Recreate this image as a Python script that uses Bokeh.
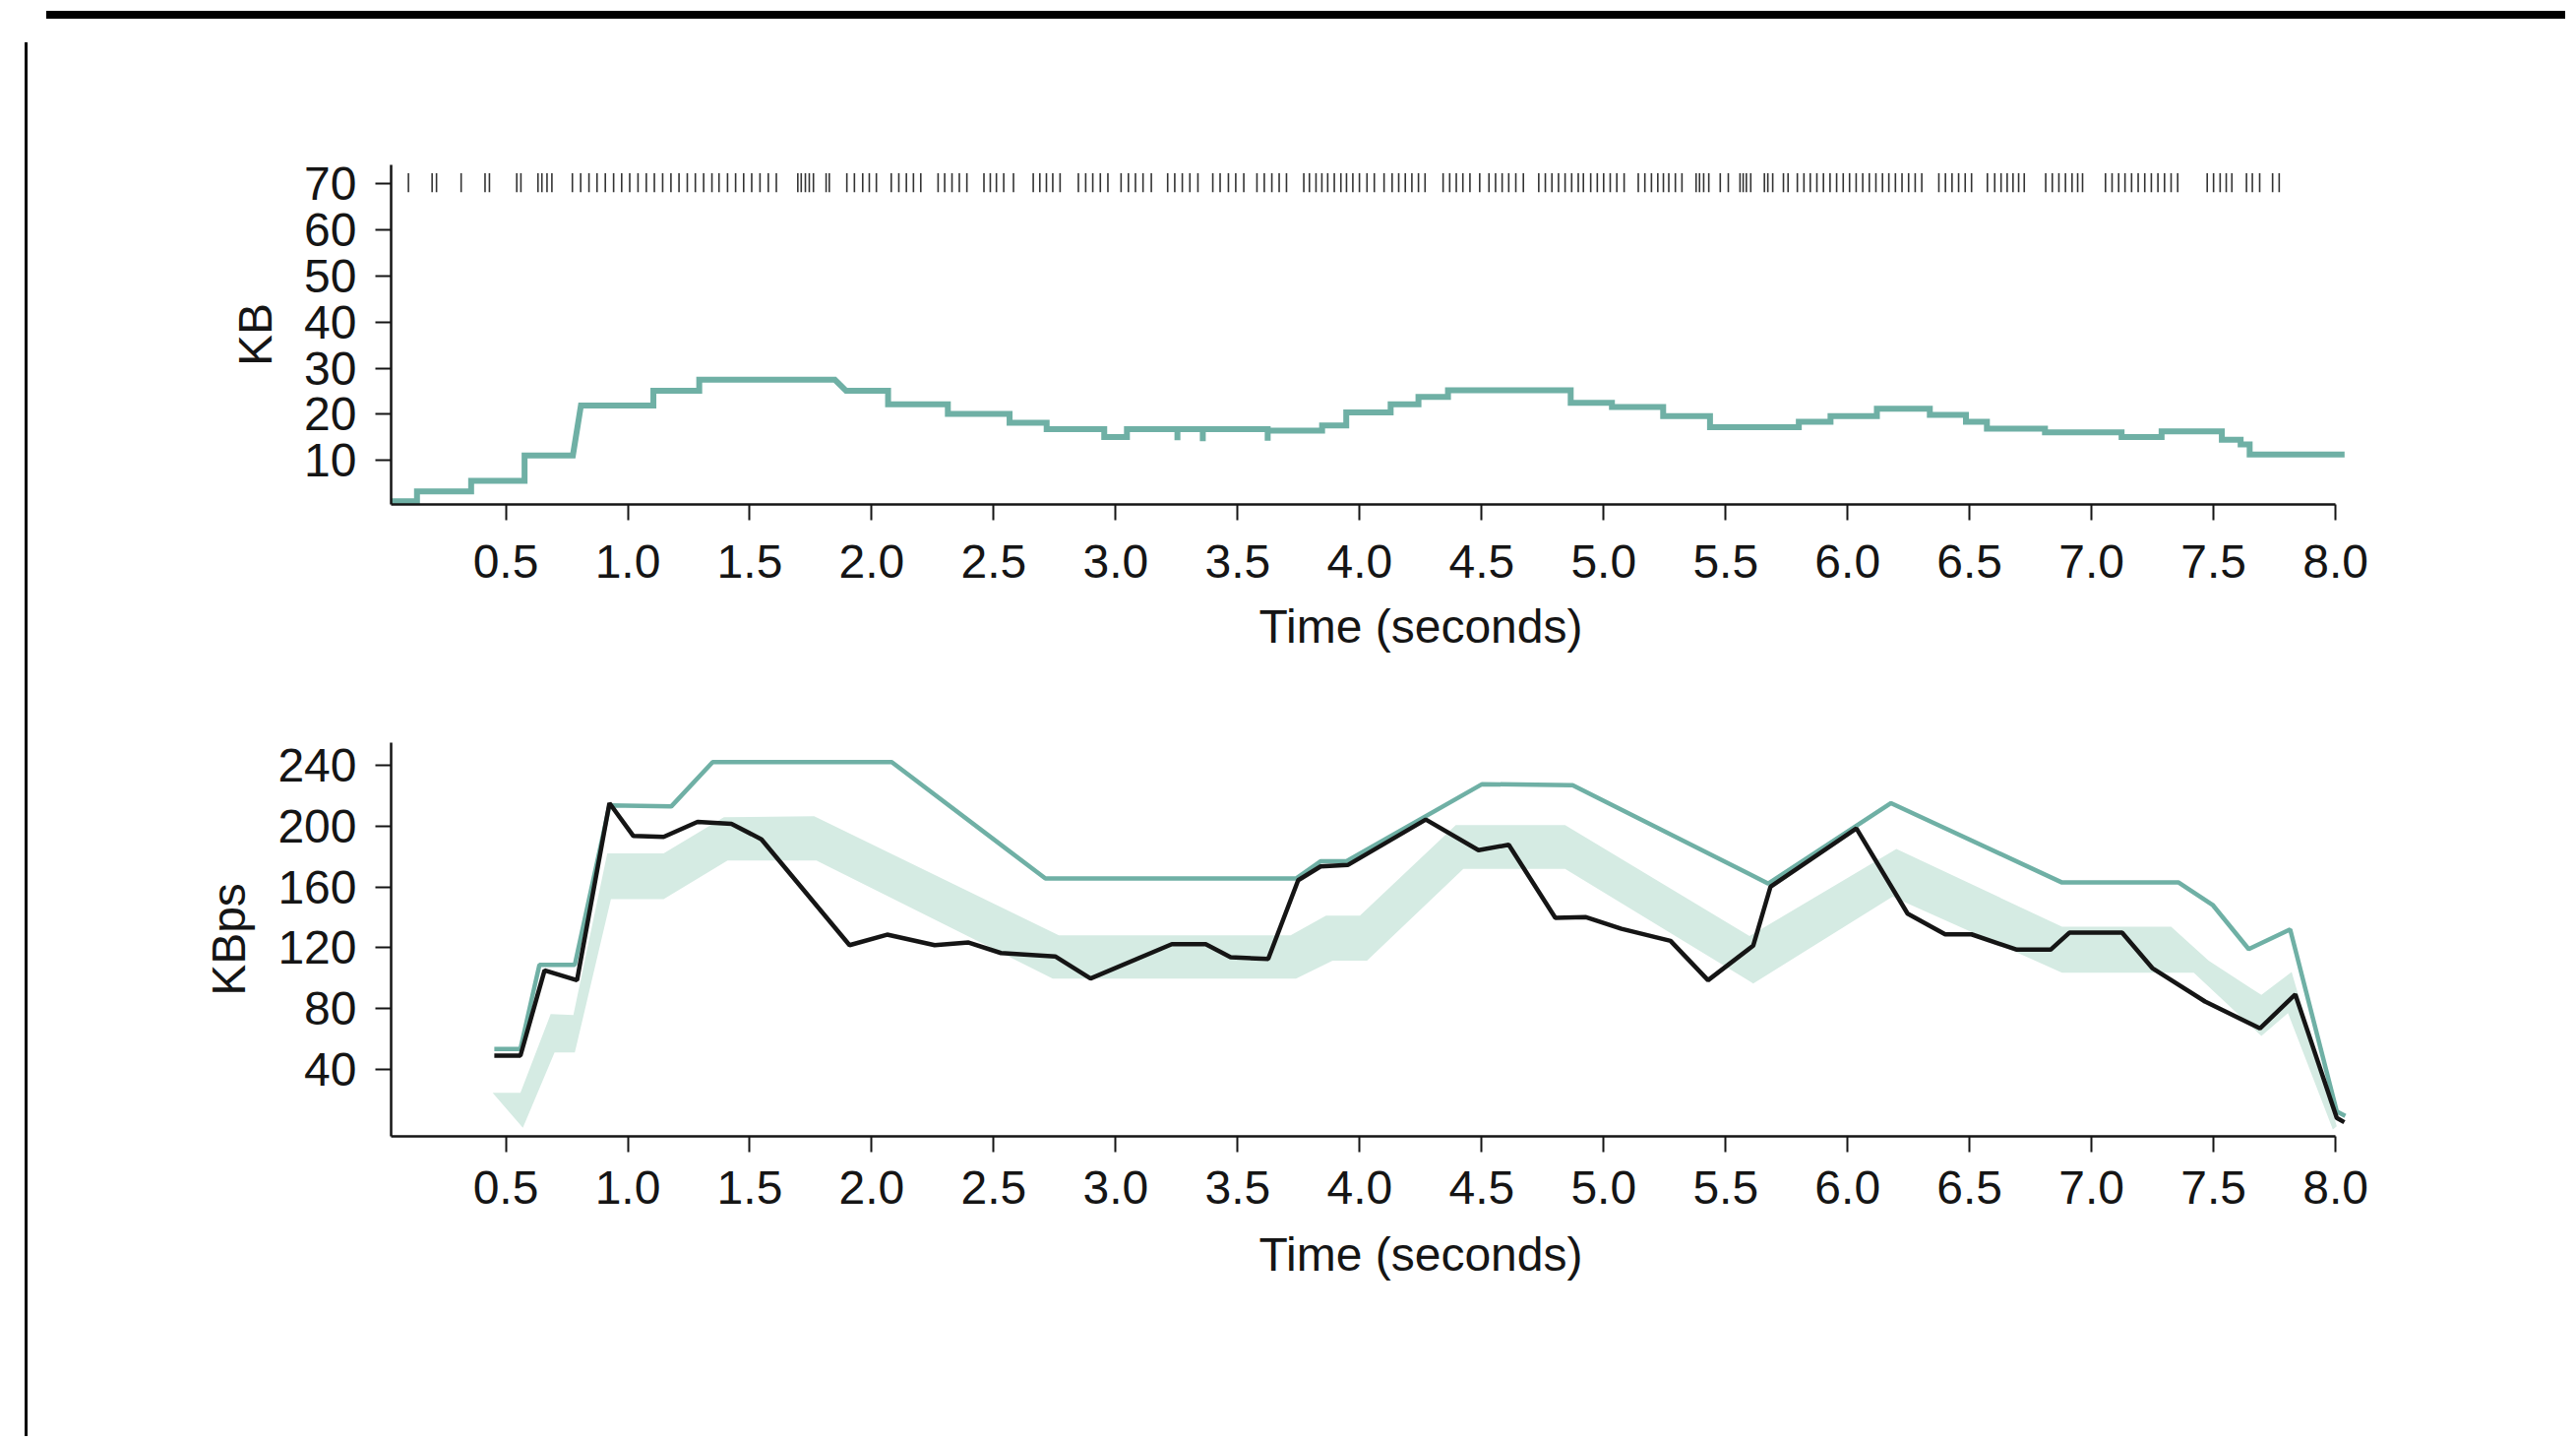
from bokeh.plotting import figure
from bokeh.models import Range1d, FixedTicker, NumeralTickFormatter, Div, Spacer, Title
from bokeh.layouts import column, row
from bokeh.embed import file_html
from bokeh.resources import INLINE

# ---------------- data ----------------
# top chart: buffer level (KB), polyline vertices
buf_t = [0.03, 0.136, 0.136, 0.358, 0.358, 0.577, 0.577, 0.775, 0.808, 1.105, 1.105, 1.293, 1.293,
         1.849, 1.895, 2.067, 2.067, 2.312, 2.312, 2.565, 2.565, 2.717, 2.717, 2.953, 2.953, 3.046,
         3.046, 3.253, 3.253, 3.253, 3.357, 3.357, 3.357, 3.623, 3.623, 3.623, 3.846, 3.846, 3.945,
         3.945, 4.127, 4.127, 4.241, 4.241, 4.362, 4.362, 4.865, 4.865, 5.034, 5.034, 5.244, 5.244,
         5.436, 5.436, 5.800, 5.800, 5.930, 5.930, 6.120, 6.120, 6.337, 6.337, 6.485, 6.485, 6.571,
         6.571, 6.809, 6.809, 7.123, 7.123, 7.287, 7.287, 7.534, 7.534, 7.611, 7.611, 7.648, 7.648, 8.037]
buf_kb = [1.2, 1.2, 3.3, 3.3, 5.6, 5.6, 11.1, 11.1, 21.9, 21.9, 25.1, 25.1, 27.5,
          27.5, 25.1, 25.1, 22.2, 22.2, 20.1, 20.1, 18.2, 18.2, 16.8, 16.8, 15.1, 15.1,
          16.8, 16.8, 14.4, 16.8, 16.8, 14.2, 16.8, 16.8, 14.3, 16.5, 16.5, 17.6, 17.6,
          20.4, 20.4, 22.2, 22.2, 23.8, 23.8, 25.2, 25.2, 22.5, 22.5, 21.6, 21.6, 19.6,
          19.6, 17.2, 17.2, 18.4, 18.4, 19.6, 19.6, 21.2, 21.2, 19.9, 19.9, 18.4, 18.4,
          16.9, 16.9, 16.1, 16.1, 15.1, 15.1, 16.3, 16.3, 14.5, 14.5, 13.5, 13.5, 11.3, 11.3]

# request times (rug at top)
req_t = [0.101, 0.198, 0.216, 0.317, 0.415, 0.433, 0.545, 0.562, 0.632, 0.648, 0.669, 0.689,
         0.773, 0.807, 0.841, 0.874, 0.908, 0.942, 0.975, 1.008, 1.042, 1.076, 1.109, 1.143,
         1.177, 1.210, 1.244, 1.277, 1.311, 1.345, 1.374, 1.409, 1.442, 1.475, 1.508, 1.542,
         1.576, 1.609,
         1.697, 1.711, 1.728, 1.744, 1.761, 1.813, 1.826, 1.898, 1.929, 1.963, 1.990, 2.019,
         2.080, 2.111, 2.142, 2.171, 2.201, 2.272, 2.299, 2.329, 2.359, 2.390,
         2.460, 2.486, 2.511, 2.541, 2.581,
         2.662, 2.689, 2.716, 2.742, 2.772, 2.847, 2.877, 2.906, 2.937, 2.968,
         3.022, 3.052, 3.081, 3.112, 3.146, 3.213, 3.242, 3.273, 3.304, 3.337,
         3.398, 3.428, 3.462, 3.492, 3.525, 3.579, 3.609, 3.640, 3.670, 3.700,
         3.771, 3.794, 3.821, 3.845, 3.869, 3.896, 3.923, 3.946, 3.972, 3.999, 4.030, 4.060,
         4.100, 4.133, 4.160, 4.187, 4.214, 4.241, 4.268,
         4.342, 4.369, 4.396, 4.423, 4.452, 4.492, 4.530, 4.557, 4.584, 4.611, 4.640, 4.671,
         4.734, 4.761, 4.788, 4.815, 4.842, 4.869, 4.896, 4.917, 4.947, 4.974, 5.000, 5.027,
         5.054, 5.084,
         5.142, 5.169, 5.196, 5.222, 5.245, 5.267, 5.294, 5.321,
         5.379, 5.393, 5.410, 5.431, 5.478, 5.511, 5.559, 5.572, 5.585, 5.603,
         5.659, 5.673, 5.693, 5.737, 5.756,
         5.794, 5.821, 5.847, 5.874, 5.901, 5.928, 5.955, 5.982, 6.008, 6.035, 6.062, 6.089,
         6.116, 6.143, 6.169, 6.196, 6.223, 6.250, 6.277, 6.304,
         6.374, 6.401, 6.428, 6.455, 6.482, 6.508,
         6.573, 6.603, 6.629, 6.654, 6.678, 6.701, 6.724,
         6.812, 6.839, 6.866, 6.893, 6.920, 6.943, 6.963,
         7.057, 7.084, 7.111, 7.137, 7.164, 7.191, 7.218, 7.245, 7.272, 7.299, 7.326, 7.353,
         7.474, 7.500, 7.527, 7.552, 7.575, 7.635, 7.659, 7.689, 7.742, 7.769]
REQ_LEVEL = 70

# bottom chart: throughput (KBps)
teal_t = [0.453, 0.560, 0.638, 0.783, 0.925, 1.178, 1.348, 2.082, 2.712, 3.739, 3.841, 3.946,
          4.502, 4.873, 5.675, 6.178, 6.879, 7.357, 7.496, 7.644, 7.814, 8.005, 8.040]
teal_v = [53.4, 53.4, 108.9, 108.9, 213.7, 213.0, 242.2, 242.2, 165.6, 165.6, 177.0, 177.0,
          227.7, 227.0, 162.3, 215.2, 163.0, 163.0, 148.3, 119.2, 132.1, 12.4, 9.5]

black_t = [0.453, 0.560, 0.659, 0.792, 0.925, 1.023, 1.147, 1.286, 1.425, 1.548, 1.909, 2.063,
           2.258, 2.397, 2.530, 2.752, 2.897, 3.230, 3.369, 3.471, 3.625, 3.748, 3.840, 3.951,
           4.271, 4.487, 4.611, 4.802, 4.925, 5.073, 5.274, 5.428, 5.613, 5.684, 6.036, 6.246,
           6.400, 6.508, 6.694, 6.832, 6.909, 7.125, 7.249, 7.465, 7.690, 7.835, 8.005, 8.036]
black_v = [49.1, 49.1, 105.2, 98.7, 215.2, 193.6, 193.0, 202.9, 201.6, 191.4, 121.8, 128.7,
           121.8, 123.5, 116.6, 114.4, 99.8, 122.4, 122.4, 113.8, 112.7, 164.5, 173.6, 174.5,
           204.4, 184.3, 187.8, 139.7, 140.3, 132.5, 124.6, 98.7, 121.4, 160.2, 198.6, 142.5,
           128.9, 128.9, 118.8, 118.8, 130.0, 130.0, 106.7, 84.7, 67.0, 89.4, 8.1, 5.3]

band_hi_t = [0.446, 0.560, 0.684, 0.777, 0.916, 1.147, 1.394, 1.764, 2.767, 3.717, 3.862, 4.001,
             4.394, 4.842, 5.598, 6.200, 6.879, 7.326, 7.480, 7.696, 7.820, 8.005]
band_hi_v = [24.7, 24.7, 76.5, 75.8, 182.2, 182.2, 205.9, 206.6, 128.3, 128.3, 141.2, 141.2,
             200.7, 200.7, 127.8, 185.0, 133.9, 133.9, 111.6, 89.0, 104.1, 2.7]
band_lo_t = [0.446, 0.570, 0.700, 0.783, 0.931, 1.147, 1.409, 1.773, 2.742, 3.739, 3.889, 4.030,
             4.425, 4.842, 5.613, 6.184, 6.879, 7.419, 7.696, 7.805, 7.989]
band_lo_v = [24.7, 1.6, 51.2, 51.2, 152.0, 152.0, 177.4, 177.4, 99.8, 99.8, 111.6, 111.6,
             172.0, 172.0, 96.6, 153.7, 103.7, 103.7, 62.0, 77.1, 0.5]

x_ticks = [0.5, 1.0, 1.5, 2.0, 2.5, 3.0, 3.5, 4.0, 4.5, 5.0, 5.5, 6.0, 6.5, 7.0, 7.5, 8.0]
kb_ticks = [10, 20, 30, 40, 50, 60, 70]
kbps_ticks = [40, 80, 120, 160, 200, 240]
x_title = "Time (seconds)"

# ---------------- style ----------------
TEAL = "#6fb0a5"
BAND = "#d5ebe3"
INK = "#151515"
FONT = "Liberation Sans"
FS = "48px"


def style(p, yticks, xstand):
    p.grid.visible = False
    p.outline_line_color = None
    p.background_fill_color = "white"
    p.border_fill_color = "white"
    p.xaxis.ticker = FixedTicker(ticks=x_ticks)
    p.xaxis.formatter = NumeralTickFormatter(format="0.0")
    p.yaxis.ticker = FixedTicker(ticks=yticks)
    p.xaxis.bounds = (0.03, 8.0)
    for ax in list(p.xaxis) + list(p.yaxis):
        ax.axis_line_color = INK
        ax.axis_line_width = 2.5
        ax.major_tick_line_color = INK
        ax.major_tick_line_width = 2
        ax.major_tick_out = 16
        ax.major_tick_in = 0
        ax.minor_tick_out = 0
        ax.minor_tick_in = 0
        ax.major_label_text_font = FONT
        ax.major_label_text_font_size = FS
        ax.major_label_text_color = INK
        ax.axis_label_text_font = FONT
        ax.axis_label_text_font_size = FS
        ax.axis_label_text_font_style = "normal"
        ax.axis_label_text_color = INK
    p.xaxis.major_label_standoff = xstand
    p.yaxis.major_label_standoff = 19
    p.yaxis.axis_label_standoff = 20


def x_title_below(p, standoff):
    p.add_layout(Title(text=x_title, align="left", offset=882, vertical_align="top",
                       standoff=standoff, text_font=FONT, text_font_size=FS,
                       text_font_style="normal", text_color=INK), "below")


p1 = figure(frame_width=1991, frame_height=345,
            x_range=Range1d(0.03, 8.06), y_range=Range1d(0.5, 74),
            output_backend="svg", toolbar_location=None,
            min_border_left=364, min_border_top=143, min_border_bottom=205, min_border_right=200)
style(p1, kb_ticks, 25)
p1.yaxis.axis_label = "KB"
x_title_below(p1, 40)
p1.segment(x0=req_t, x1=req_t, y0=REQ_LEVEL - 1.9, y1=REQ_LEVEL + 2.2,
           line_color="#333333", line_width=1.6)
p1.line(buf_t, buf_kb, line_color=TEAL, line_width=6, line_join="miter")

p2 = figure(frame_width=1991, frame_height=400,
            x_range=Range1d(0.03, 8.06), y_range=Range1d(-4, 255),
            output_backend="svg", toolbar_location=None,
            min_border_left=364, min_border_top=37, min_border_bottom=200, min_border_right=200)
style(p2, kbps_ticks, 19)
p2.yaxis.axis_label = "KBps"
x_title_below(p2, 44)
p2.patch(band_hi_t + band_lo_t[::-1], band_hi_v + band_lo_v[::-1],
         fill_color=BAND, line_color=None)
p2.line(teal_t, teal_v, line_color=TEAL, line_width=4.5)
p2.line(black_t, black_v, line_color=INK, line_width=4.5)

top_bar = row(Spacer(width=42, height=8),
              Div(text="", width=2560, height=8, styles={"background-color": "#000"}))
left_bar = column(Spacer(width=4, height=14),
                  Div(text="", width=3, height=1416, styles={"background-color": "#000"}))
main = row(Spacer(width=20, height=10), left_bar, column(p1, p2))
page = column(Spacer(width=10, height=6), top_bar, main)

open("out.html", "w").write(file_html(page, INLINE))
